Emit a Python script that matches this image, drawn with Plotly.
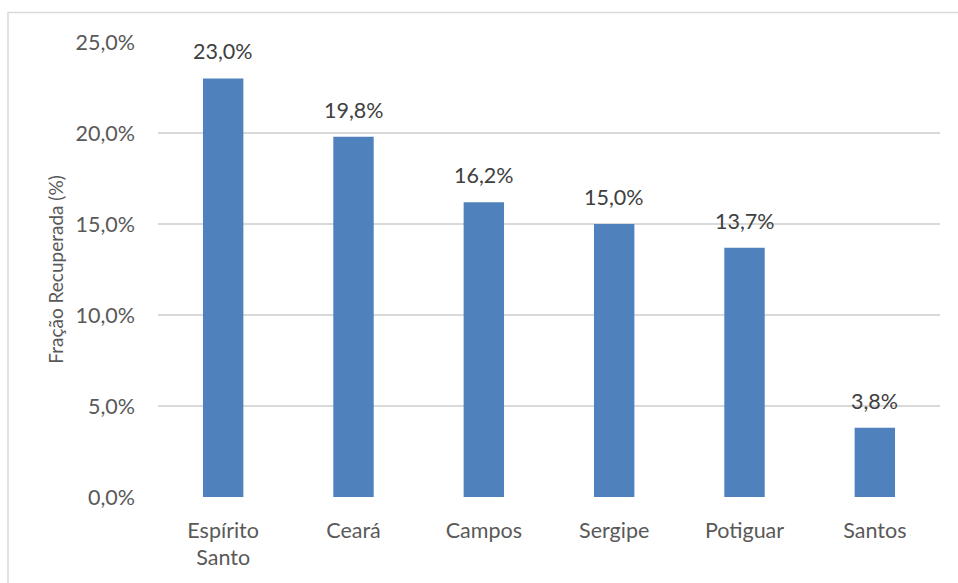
import plotly.graph_objects as go

# Fração recuperada por bacia
categorias = ["Espírito<br>Santo", "Ceará", "Campos", "Sergipe", "Potiguar", "Santos"]
fracao = [23.0, 19.8, 16.2, 15.0, 13.7, 3.8]
ticks_y = [0, 5, 10, 15, 20, 25]
ticks_y_txt = ["0,0%", "5,0%", "10,0%", "15,0%", "20,0%", "25,0%"]

FONT = "Lato, 'Open Sans', sans-serif"
W, H = 958, 583
ML, MR, MT, MB = 158, 18, 42, 86

fig = go.Figure()
fig.add_trace(go.Bar(
    x=categorias,
    y=fracao,
    marker=dict(color="#4f81bd", line=dict(width=0)),
    width=0.31,
    hoverinfo="skip",
))

# rótulos de valor acima das barras (vírgula decimal)
for c, v in zip(categorias, fracao):
    fig.add_annotation(
        x=c, y=v, text=f"{v:.1f}%".replace(".", ","),
        showarrow=False, yanchor="bottom", yshift=12,
        font=dict(family=FONT, size=21.5, color="#404040"),
    )

# moldura do gráfico
plot_w = W - ML - MR
plot_h = H - MT - MB
fig.add_shape(
    type="rect", xref="paper", yref="paper",
    x0=(8 - ML) / plot_w, x1=1.2,
    y0=-0.5, y1=(H - MB - 12.5) / plot_h,
    line=dict(color="#d9d9d9", width=1.5), fillcolor="rgba(0,0,0,0)",
    layer="below",
)

fig.update_layout(
    width=W, height=H,
    margin=dict(l=ML, r=MR, t=MT, b=MB),
    paper_bgcolor="white", plot_bgcolor="white",
    showlegend=False,
    bargap=0.69,
    font=dict(family=FONT, color="#595959"),
    xaxis=dict(
        type="category",
        showgrid=False, showline=False, zeroline=False,
        tickfont=dict(family=FONT, size=21.5, color="#595959"),
        ticklabelstandoff=18,
        fixedrange=True,
    ),
    yaxis=dict(
        range=[0, 25],
        tickvals=ticks_y, ticktext=ticks_y_txt,
        showgrid=True, gridcolor="#d9d9d9", gridwidth=1.5,
        zeroline=False, showline=False,
        tickfont=dict(family=FONT, size=21.5, color="#595959"),
        ticklabelstandoff=22,
        title=dict(text="Fração Recuperada (%)",
                   font=dict(family=FONT, size=19, color="#595959"),
                   standoff=6),
        fixedrange=True,
    ),
)

fig.write_html("out.html")
